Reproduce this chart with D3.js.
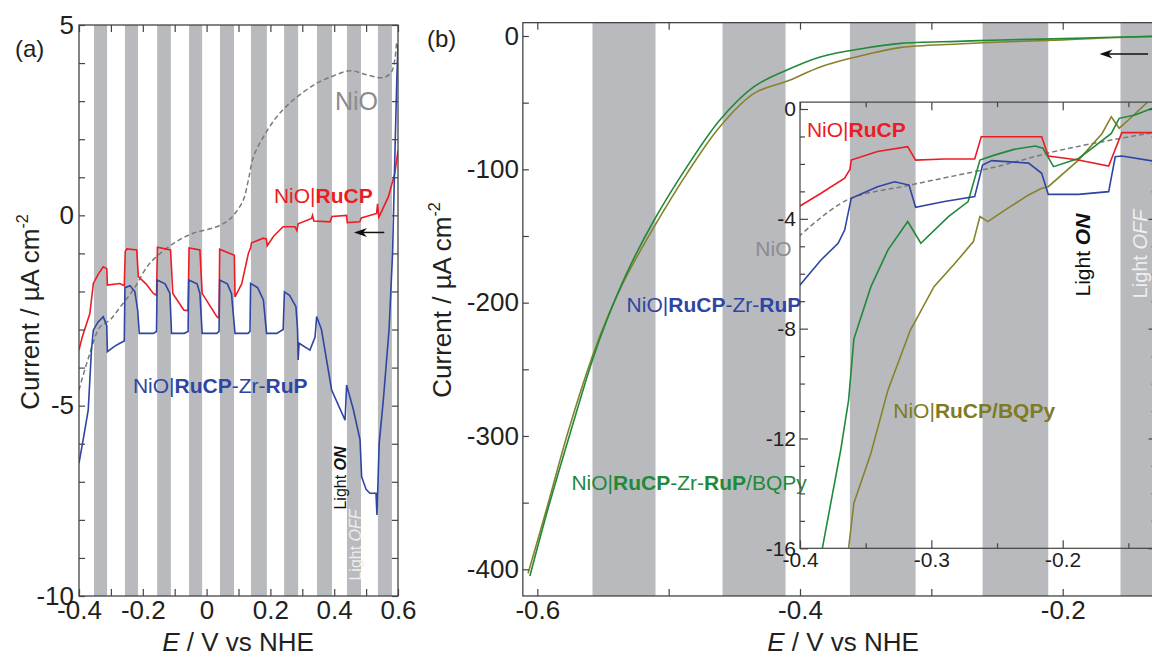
<!DOCTYPE html>
<html>
<head>
<meta charset="utf-8">
<script src="https://cdn.jsdelivr.net/npm/d3@7"></script>
<style>
  body { margin: 0; background: #fff; }
  svg { display: block; font-family: "Liberation Sans", Arial, Helvetica, sans-serif; }
</style>
</head>
<body>
<script>
// ---- data (E in V vs NHE, current in uA cm-2) ----

// light chopping: grey bands
const stripesA = [[-0.353,-0.312],[-0.256,-0.215],[-0.155,-0.112],[-0.055,-0.014],[0.042,0.086],
                  [0.139,0.189],[0.243,0.287],[0.346,0.393],[0.440,0.484],[0.537,0.581]];
const stripesB = [[-0.558,-0.510],[-0.459,-0.411],[-0.362,-0.312],[-0.261,-0.211],[-0.156,-0.105]];

// panel (a)
const nioA = [[-0.4,-4.59],[-0.371,-3.76],[-0.334,-2.93],[-0.303,-2.75],[-0.27,-2.4],[-0.23,-1.96],
              [-0.178,-1.26],[-0.104,-0.74],[-0.042,-0.47],[0.032,-0.30],[0.07,-0.12],[0.089,0.05],
              [0.115,0.40],[0.131,0.93],[0.147,1.54],[0.178,2.06],[0.22,2.59],[0.272,3.03],[0.345,3.47],
              [0.397,3.66],[0.45,3.80],[0.502,3.69],[0.554,3.62],[0.58,3.77],[0.596,4.6]];

const rucpA = [[-0.4,-3.54],[-0.39,-3.2],[-0.366,-2.58],[-0.355,-1.79],[-0.34,-1.55],[-0.324,-1.35],
               [-0.313,-1.4],[-0.311,-1.83],[-0.272,-1.79],[-0.258,-1.85],[-0.255,-0.95],[-0.25,-0.88],
               [-0.219,-0.91],[-0.214,-1.61],[-0.19,-1.8],[-0.167,-2.05],[-0.157,-2.1],[-0.154,-0.84],
               [-0.113,-0.91],[-0.106,-2.05],[-0.071,-2.49],[-0.058,-2.5],[-0.055,-0.86],[-0.021,-0.91],
               [-0.014,-2.05],[0.032,-2.66],[0.039,-2.7],[0.041,-0.89],[0.073,-1.0],[0.087,-1.05],
               [0.089,-2.14],[0.11,-1.8],[0.131,-1.0],[0.138,-0.85],[0.141,-0.72],[0.178,-0.60],
               [0.187,-0.62],[0.19,-0.80],[0.21,-0.55],[0.24,-0.30],[0.277,-0.30],[0.283,-0.40],
               [0.287,-0.22],[0.329,-0.08],[0.332,0.0],[0.336,-0.15],[0.387,-0.17],[0.393,-0.03],
               [0.439,0.0],[0.441,-0.19],[0.48,-0.17],[0.485,-0.07],[0.533,0.05],[0.536,0.3],
               [0.54,-0.05],[0.57,0.49],[0.59,1.10],[0.6,1.7]];

const rupA = [[-0.4,-6.51],[-0.385,-5.8],[-0.371,-5.11],[-0.361,-3.54],[-0.355,-3.01],[-0.34,-2.8],
              [-0.324,-2.66],[-0.313,-2.9],[-0.311,-3.58],[-0.29,-3.45],[-0.272,-3.36],[-0.258,-3.3],
              [-0.256,-1.9],[-0.24,-1.85],[-0.225,-2.0],[-0.216,-2.5],[-0.211,-3.10],[-0.167,-3.10],
              [-0.157,-3.05],[-0.155,-1.70],[-0.13,-1.8],[-0.115,-2.05],[-0.11,-3.10],[-0.07,-3.10],
              [-0.058,-3.05],[-0.056,-1.70],[-0.03,-1.8],[-0.021,-2.05],[-0.014,-3.10],[0.032,-3.10],
              [0.039,-3.05],[0.041,-1.70],[0.065,-1.8],[0.078,-2.05],[0.089,-3.10],[0.13,-3.10],
              [0.136,-3.05],[0.138,-1.79],[0.16,-1.9],[0.178,-2.22],[0.188,-3.10],[0.22,-3.10],
              [0.24,-3.0],[0.244,-2.01],[0.26,-2.1],[0.28,-2.4],[0.285,-3.0],[0.287,-3.80],
              [0.29,-3.36],[0.324,-3.54],[0.34,-3.2],[0.345,-2.66],[0.36,-3.0],[0.392,-4.59],
              [0.434,-5.38],[0.439,-4.46],[0.46,-5.1],[0.481,-5.90],[0.486,-6.87],[0.50,-7.2],
              [0.512,-7.30],[0.531,-7.30],[0.534,-7.87],[0.537,-7.1],[0.541,-5.99],[0.554,-4.85],
              [0.572,-3.0],[0.583,-1.0],[0.59,1.5],[0.596,3.5],[0.6,4.5]];

// panel (b), full scale
const bqpyRupB = [[-0.6056,-405],[-0.5928,-358],[-0.575,-298],[-0.558,-243],[-0.547,-213],[-0.532,-178],
                  [-0.511,-138],[-0.486,-98],[-0.461,-63],[-0.435,-38],[-0.41,-25.5],[-0.384,-15.5],
                  [-0.35,-9],[-0.323,-5.5],[-0.28,-4],[-0.247,-3],[-0.2,-2],[-0.17,-1.1],[-0.13,-0.2]];
const bqpyRucpB = [[-0.607,-403],[-0.593,-355],[-0.576,-295],[-0.558,-240],[-0.547,-212],[-0.532,-180],
                   [-0.511,-143],[-0.486,-103],[-0.461,-68],[-0.435,-43],[-0.41,-34],[-0.384,-23],
                   [-0.35,-14],[-0.323,-8.5],[-0.28,-6],[-0.247,-4.5],[-0.2,-3],[-0.17,-1.5],[-0.13,-0.3]];

// panel (b), inset
const nioI = [[-0.401,-4.65],[-0.364,-3.31],[-0.316,-2.77],[-0.252,-2.12],[-0.201,-1.49],[-0.128,-0.83]];
const rucpI = [[-0.401,-3.56],[-0.384,-3.07],[-0.366,-2.52],[-0.362,-2.2],[-0.361,-1.86],[-0.341,-1.55],
               [-0.318,-1.37],[-0.312,-1.86],[-0.29,-1.82],[-0.267,-1.82],[-0.262,-1.01],[-0.216,-1.01],
               [-0.211,-1.71],[-0.188,-1.86],[-0.165,-2.08],[-0.155,-0.86],[-0.128,-0.86]];
const rupI = [[-0.401,-6.47],[-0.384,-5.50],[-0.371,-4.89],[-0.366,-4.41],[-0.361,-3.25],[-0.341,-2.83],
              [-0.328,-2.65],[-0.317,-2.77],[-0.312,-3.58],[-0.29,-3.37],[-0.267,-3.19],[-0.261,-2.04],
              [-0.254,-1.88],[-0.226,-1.97],[-0.216,-2.34],[-0.211,-3.11],[-0.188,-3.11],[-0.165,-3.01],
              [-0.16,-1.74],[-0.155,-1.71],[-0.128,-1.92]];
const bqpyRupI = [[-0.383,-16.0],[-0.369,-12.42],[-0.363,-10.6],[-0.359,-8.38],[-0.346,-6.47],[-0.333,-5.13],
                  [-0.318,-4.10],[-0.308,-4.89],[-0.287,-3.92],[-0.272,-3.37],[-0.263,-1.86],[-0.252,-1.68],
                  [-0.237,-1.47],[-0.221,-1.35],[-0.215,-1.43],[-0.207,-2.10],[-0.188,-1.80],[-0.176,-1.37],
                  [-0.163,-0.89],[-0.157,-0.34],[-0.145,-0.22],[-0.128,0.1]];
const bqpyRucpI = [[-0.363,-16.0],[-0.359,-14.36],[-0.346,-12.54],[-0.333,-10.23],[-0.316,-8.05],[-0.313,-7.8],
                   [-0.298,-6.47],[-0.282,-5.62],[-0.268,-4.83],[-0.263,-3.92],[-0.257,-4.10],[-0.242,-3.62],
                   [-0.226,-3.13],[-0.216,-2.89],[-0.211,-2.83],[-0.188,-1.86],[-0.17,-0.89],[-0.163,-0.28],
                   [-0.157,-0.70],[-0.15,-0.40],[-0.135,0.27]];

// ticks
const ticksA_E = [-0.4,-0.3,-0.2,-0.1,0,0.1,0.2,0.3,0.4,0.5,0.6];
const labelsA_E = [-0.4,-0.2,0,0.2,0.4,0.6];
const ticksA_I = d3.range(-10, 6, 1);
const labelsA_I = [-10,-5,0,5];
const ticksB_E = [-0.6,-0.5,-0.4,-0.3,-0.2,-0.1];
const labelsB_E = [-0.6,-0.4,-0.2];
const ticksB_I = [-400,-350,-300,-250,-200,-150,-100,-50,0];
const labelsB_I = [-400,-300,-200,-100,0];
const ticksI_E = [-0.4,-0.35,-0.3,-0.25,-0.2,-0.15];
const labelsI_E = [-0.4,-0.3,-0.2];
const ticksI_I = d3.range(-16, 1, 1);
const labelsI_I = [-16,-12,-8,-4,0];

// ---- style ----
const C = {
  red: "#ec1c24", blue: "#2e45a3", green: "#1e8a3a", olive: "#86822a", oliveText: "#7f7b22",
  nio: "#7a7a7a", nioText: "#8c8c8c", stripe: "#b9babd", ink: "#231f20", axis: "#444"
};
const W = 1152, H = 657;

const svg = d3.select("body").append("svg").attr("width", W).attr("height", H);
const defs = svg.append("defs");

function fmt(d) { return String(+d.toFixed(2)); }
const has = (arr, d) => arr.some(v => Math.abs(v - d) < 1e-9);

// inward ticks, labels only where listed
function axis(g, gen, ticks, labels, size, pad, fs) {
  g.call(gen.tickValues(ticks).tickSizeInner(-size).tickSizeOuter(0).tickPadding(pad)
            .tickFormat(d => has(labels, d) ? fmt(d) : ""));
  g.select(".domain").remove();
  g.selectAll(".tick line").attr("stroke", C.axis).attr("stroke-width", 1.2);
  g.selectAll(".tick text").attr("fill", C.ink).attr("font-size", fs)
    .attr("font-family", "\"Liberation Sans\", Arial, sans-serif");
  g.attr("font-family", null).attr("font-size", null);
}
function bareAxis(g, gen, ticks) {
  g.call(gen.tickValues(ticks).tickSizeOuter(0).tickFormat(""));
  g.select(".domain").remove();
  g.selectAll(".tick line").attr("stroke", C.axis).attr("stroke-width", 1.2);
}

function clip(id, x0, y0, x1, y1) {
  defs.append("clipPath").attr("id", id).append("rect")
    .attr("x", x0).attr("y", y0).attr("width", x1 - x0).attr("height", y1 - y0);
}

function richText(g, x, y, parts, color, fs) {
  const t = g.append("text").attr("x", x).attr("y", y).attr("fill", color).attr("font-size", fs);
  parts.forEach(p => t.append("tspan").text(p[0]).attr("font-weight", p[1] ? "bold" : "normal"));
  return t;
}
function lightText(g, cx, cy, fs, word, color, weight) {
  const t = g.append("text").attr("transform", `translate(${cx},${cy}) rotate(-90)`)
    .attr("text-anchor", "middle").attr("dominant-baseline", "central")
    .attr("font-size", fs).attr("fill", color);
  t.append("tspan").text("Light ");
  t.append("tspan").text(word).attr("font-style", "italic").attr("font-weight", weight);
}
function arrow(g, x0, x1, y, color) {
  // horizontal arrow pointing from x0 to x1
  const dir = Math.sign(x1 - x0), hl = 13, hw = 4.5;
  g.append("line").attr("x1", x0).attr("x2", x1 - dir * hl * 0.6).attr("y1", y).attr("y2", y)
    .attr("stroke", color).attr("stroke-width", 1.5);
  g.append("path").attr("d", `M${x1},${y} L${x1 - dir * hl},${y - hw} L${x1 - dir * hl * 0.7},${y} L${x1 - dir * hl},${y + hw} Z`)
    .attr("fill", color);
}
function yTitle(g, x, y, fs) {
  const t = g.append("text").attr("transform", `translate(${x},${y}) rotate(-90)`)
    .attr("text-anchor", "middle").attr("font-size", fs).attr("fill", C.ink);
  t.append("tspan").text("Current / µA cm");
  t.append("tspan").text("-2").attr("font-size", fs * 0.62).attr("dy", -fs * 0.42);
}
function xTitle(g, x, y, fs) {
  const t = g.append("text").attr("x", x).attr("y", y).attr("text-anchor", "middle")
    .attr("font-size", fs).attr("fill", C.ink);
  t.append("tspan").text("E").attr("font-style", "italic");
  t.append("tspan").text(" / V vs NHE");
}

// ================= panel (a) =================
const xA = d3.scaleLinear([-0.4, 0.6], [79, 398]);
const yA = d3.scaleLinear([-10, 5], [596, 25]);
const gA = svg.append("g");
clip("clipA", xA(-0.4), yA(5), xA(0.6), yA(-10));

gA.append("g").attr("clip-path", "url(#clipA)").selectAll("rect").data(stripesA).join("rect")
  .attr("x", d => xA(d[0])).attr("width", d => xA(d[1]) - xA(d[0]))
  .attr("y", yA(5)).attr("height", yA(-10) - yA(5)).attr("fill", C.stripe);

const lineA = d3.line().x(d => xA(d[0])).y(d => yA(d[1]));
const curvesA = gA.append("g").attr("clip-path", "url(#clipA)").attr("fill", "none");
curvesA.append("path").datum(nioA).attr("d", lineA.curve(d3.curveCatmullRom))
  .attr("stroke", C.nio).attr("stroke-width", 1.5).attr("stroke-dasharray", "5,3");
lineA.curve(d3.curveLinear);
curvesA.append("path").datum(rucpA).attr("d", lineA).attr("stroke", C.red).attr("stroke-width", 1.6);
curvesA.append("path").datum(rupA).attr("d", lineA).attr("stroke", C.blue).attr("stroke-width", 1.6);

gA.append("rect").attr("x", xA(-0.4)).attr("y", yA(5)).attr("width", xA(0.6) - xA(-0.4))
  .attr("height", yA(-10) - yA(5)).attr("fill", "none").attr("stroke", C.axis).attr("stroke-width", 1.3);

axis(gA.append("g").attr("transform", `translate(0,${yA(-10)})`), d3.axisBottom(xA), ticksA_E, labelsA_E, 7, 5, 26);
bareAxis(gA.append("g").attr("transform", `translate(0,${yA(5)})`), d3.axisTop(xA).tickSizeInner(-7), ticksA_E);
axis(gA.append("g").attr("transform", `translate(${xA(-0.4)},0)`), d3.axisLeft(yA), ticksA_I, labelsA_I, 6, 5, 26);
bareAxis(gA.append("g").attr("transform", `translate(${xA(0.6)},0)`), d3.axisRight(yA).tickSizeInner(-6), ticksA_I);

arrow(gA, xA(0.557), xA(0.462), yA(-0.45), "#111");

gA.append("text").attr("x", xA(0.4025)).attr("y", yA(2.77)).attr("font-size", 25).attr("fill", C.nioText).text("NiO");
richText(gA, xA(0.211), yA(0.33), [["NiO|", 0], ["RuCP", 1]], C.red, 21);
richText(gA, xA(-0.231), yA(-4.67), [["NiO|", 0], ["RuCP", 1], ["-Zr-", 0], ["RuP", 1]], C.blue, 21);
lightText(gA, xA(0.418), yA(-6.9), 16, "ON", "#111", "bold");
lightText(gA, xA(0.465), yA(-8.66), 16, "OFF", "#eeeeee", "normal");

gA.append("text").attr("x", 15).attr("y", 57).attr("font-size", 24).attr("fill", C.ink).text("(a)");
yTitle(gA, 39, 312, 26);
xTitle(gA, 238, 651, 26);

// ================= panel (b) =================
const xB = d3.scaleLinear([-0.6, -0.2], [537.3, 1062.7]);
const yB = d3.scaleLinear([-400, 0], [569.3, 36]);
const bL = -0.611, bR = -0.11, bT = 10, bBot = -420;
const gB = svg.append("g");
clip("clipB", xB(bL), yB(bT), xB(bR), yB(bBot));

gB.append("g").attr("clip-path", "url(#clipB)").selectAll("rect").data(stripesB).join("rect")
  .attr("x", d => xB(d[0])).attr("width", d => xB(d[1]) - xB(d[0]))
  .attr("y", yB(bT)).attr("height", yB(bBot) - yB(bT)).attr("fill", C.stripe);

const lineB = d3.line().x(d => xB(d[0])).y(d => yB(d[1])).curve(d3.curveCatmullRom);
const curvesB = gB.append("g").attr("clip-path", "url(#clipB)").attr("fill", "none");
curvesB.append("path").datum(bqpyRucpB).attr("d", lineB).attr("stroke", C.olive).attr("stroke-width", 1.6);
curvesB.append("path").datum(bqpyRupB).attr("d", lineB).attr("stroke", C.green).attr("stroke-width", 1.6);

gB.append("rect").attr("x", xB(bL)).attr("y", yB(bT)).attr("width", xB(bR) - xB(bL))
  .attr("height", yB(bBot) - yB(bT)).attr("fill", "none").attr("stroke", C.axis).attr("stroke-width", 1.3);

axis(gB.append("g").attr("transform", `translate(0,${yB(bBot)})`), d3.axisBottom(xB), ticksB_E, labelsB_E, 7, 5, 26);
bareAxis(gB.append("g").attr("transform", `translate(0,${yB(bT)})`), d3.axisTop(xB).tickSizeInner(-7), ticksB_E);
axis(gB.append("g").attr("transform", `translate(${xB(bL)},0)`), d3.axisLeft(yB), ticksB_I, labelsB_I, 6, 4, 26);

arrow(gB, xB(-0.135), xB(-0.172), yB(-13.5), "#111");

// inset
const yI = d3.scaleLinear([-16, 0], [548.3, 109]);
const iL = -0.4, iR = -0.1285, iT = 0.25, iBot = -16;
const gI = svg.append("g");
clip("clipI", xB(iL), yI(iT), xB(iR), yI(iBot));

const lineI = d3.line().x(d => xB(d[0])).y(d => yI(d[1]));
const curvesI = gI.append("g").attr("clip-path", "url(#clipI)").attr("fill", "none");
curvesI.append("path").datum(nioI).attr("d", d3.line().x(d => xB(d[0])).y(d => yI(d[1])).curve(d3.curveCatmullRom))
  .attr("stroke", C.nio).attr("stroke-width", 1.5).attr("stroke-dasharray", "5,3");
curvesI.append("path").datum(bqpyRucpI).attr("d", lineI).attr("stroke", C.olive).attr("stroke-width", 1.6);
curvesI.append("path").datum(bqpyRupI).attr("d", lineI).attr("stroke", C.green).attr("stroke-width", 1.6);
curvesI.append("path").datum(rucpI).attr("d", lineI).attr("stroke", C.red).attr("stroke-width", 1.6);
curvesI.append("path").datum(rupI).attr("d", lineI).attr("stroke", C.blue).attr("stroke-width", 1.6);

gI.append("rect").attr("x", xB(iL)).attr("y", yI(iT)).attr("width", xB(iR) - xB(iL))
  .attr("height", yI(iBot) - yI(iT)).attr("fill", "none").attr("stroke", C.axis).attr("stroke-width", 1.2);

const majE = ticksI_E.filter(d => has(labelsI_E, d)), minE = ticksI_E.filter(d => !has(labelsI_E, d));
const majI = ticksI_I.filter(d => has(labelsI_I, d)), minI = ticksI_I.filter(d => !has(labelsI_I, d));
axis(gI.append("g").attr("transform", `translate(0,${yI(iBot)})`), d3.axisBottom(xB), majE, labelsI_E, 8, 4, 21);
bareAxis(gI.append("g").attr("transform", `translate(0,${yI(iBot)})`), d3.axisBottom(xB).tickSizeInner(-5), minE);
bareAxis(gI.append("g").attr("transform", `translate(0,${yI(iT)})`), d3.axisTop(xB).tickSizeInner(-8), majE);
bareAxis(gI.append("g").attr("transform", `translate(0,${yI(iT)})`), d3.axisTop(xB).tickSizeInner(-5), minE);
axis(gI.append("g").attr("transform", `translate(${xB(iL)},0)`), d3.axisLeft(yI), majI, labelsI_I, 8, 4, 21);
bareAxis(gI.append("g").attr("transform", `translate(${xB(iL)},0)`), d3.axisLeft(yI).tickSizeInner(-5), minI);
bareAxis(gI.append("g").attr("transform", `translate(${xB(iR)},0)`), d3.axisRight(yI).tickSizeInner(-8), majI);
bareAxis(gI.append("g").attr("transform", `translate(${xB(iR)},0)`), d3.axisRight(yI).tickSizeInner(-5), minI);

richText(gI, xB(-0.3947), yI(-1.01), [["NiO|", 0], ["RuCP", 1]], C.red, 21);
gI.append("text").attr("x", xB(-0.434)).attr("y", yI(-5.35)).attr("font-size", 21).attr("fill", C.nioText).text("NiO");
richText(gI, xB(-0.329), yI(-11.25), [["NiO|", 0], ["RuCP/BQPy", 1]], C.oliveText, 21);
lightText(gI, xB(-0.185), yI(-5.32), 21, "ON", "#111", "bold");
lightText(gI, xB(-0.141), yI(-5.28), 20, "OFF", "#eeeeee", "normal");

richText(gB, xB(-0.532), yB(-206.8), [["NiO|", 0], ["RuCP", 1], ["-Zr-", 0], ["RuP", 1]], C.blue, 21);
richText(gB, xB(-0.574), yB(-340.5), [["NiO|", 0], ["RuCP", 1], ["-Zr-", 0], ["RuP", 1], ["/BQPy", 0]], C.green, 21);

gB.append("text").attr("x", 427).attr("y", 47).attr("font-size", 24).attr("fill", C.ink).text("(b)");
yTitle(gB, 451, 300, 26);
xTitle(gB, 843, 651, 26);
</script>
</body>
</html>
